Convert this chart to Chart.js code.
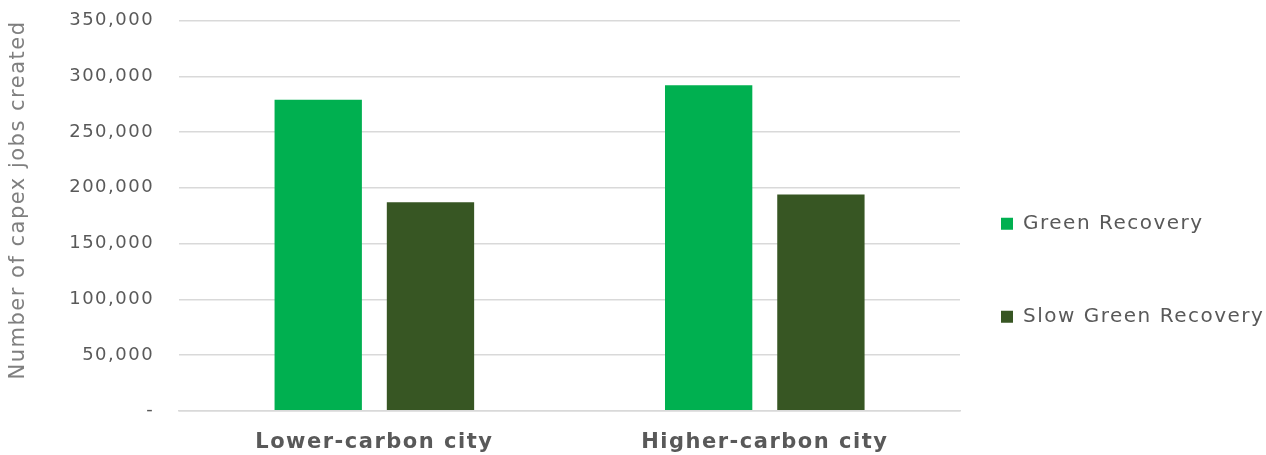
<!DOCTYPE html>
<html>
<head>
<meta charset="utf-8">
<script src="https://cdn.jsdelivr.net/npm/chart.js@4.4.0/dist/chart.umd.min.js"></script>
<style>
  html, body { margin: 0; padding: 0; background: #fff; }
</style>
</head>
<body>
<canvas id="jobsChart" width="1266" height="455"></canvas>
<script>
// Data
const categories = ["Lower-carbon city", "Higher-carbon city"];
const greenRecovery = [279000, 292000];
const slowGreenRecovery = [187000, 194000];
const yTicks = [0, 50000, 100000, 150000, 200000, 250000, 300000, 350000];

const fontFamily = "'DejaVu Sans', sans-serif";

// wider letter spacing, the original font is a wide one
const spacing = {
  id: 'spacing',
  beforeUpdate(chart) { chart.ctx.letterSpacing = '1.5px'; },
  beforeDraw(chart) { chart.ctx.letterSpacing = '1.5px'; }
};

// Legend: fixed width so the plot ends at the same place, then moved into place
const legendFit = {
  id: 'legendFit',
  beforeInit(chart) {
    const legend = chart.legend;
    const origFit = legend.fit;
    legend.fit = function () {
      origFit.call(this);
      this.width = 306;
    };
  },
  afterLayout(chart) {
    const legend = chart.legend;
    legend.left -= 32;
    legend.top += 27;
    legend.bottom += 27;
  }
};

new Chart(document.getElementById("jobsChart").getContext("2d"), {
  type: "bar",
  data: {
    labels: categories,
    datasets: [
      {
        label: "Green Recovery",
        data: greenRecovery,
        backgroundColor: "#00b050"
      },
      {
        label: "Slow Green Recovery",
        data: slowGreenRecovery,
        backgroundColor: "#375623"
      }
    ]
  },
  options: {
    responsive: false,
    animation: false,
    datasets: {
      bar: { categoryPercentage: 0.575, barPercentage: 0.778 }
    },
    layout: { padding: { top: 20.5, left: 6, right: 0, bottom: -11 } },
    plugins: {
      legend: {
        position: "right",
        align: "center",
        labels: {
          boxWidth: 12,
          boxHeight: 12,
          padding: 73,
          color: "#595959",
          font: { family: fontFamily, size: 20 }
        }
      },
      tooltip: { enabled: false }
    },
    scales: {
      x: {
        grid: { display: false },
        border: { display: true, color: "#d9d9d9", width: 1.5 },
        ticks: {
          color: "#595959",
          padding: 11,
          font: { family: fontFamily, size: 21, weight: "bold" }
        }
      },
      y: {
        min: 0,
        max: 350000,
        afterBuildTicks(axis) {
          axis.ticks = yTicks.map(v => ({ value: v }));
        },
        border: { display: false },
        grid: { color: "#d9d9d9", lineWidth: 1.5, tickLength: 25, tickColor: "rgba(0,0,0,0)" },
        ticks: {
          color: "#595959",
          padding: 0,
          font: { family: fontFamily, size: 18 },
          callback: val => val === 0 ? "-" : val.toLocaleString("en-US")
        },
        title: {
          display: true,
          text: "Number of capex jobs created",
          align: "end",
          color: "#7f7f7f",
          padding: { top: 0, bottom: 38 },
          font: { family: fontFamily, size: 21 }
        }
      }
    }
  },
  plugins: [spacing, legendFit]
});
</script>
</body>
</html>
